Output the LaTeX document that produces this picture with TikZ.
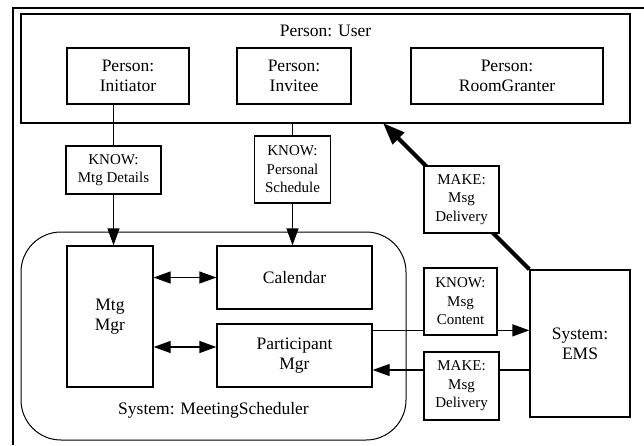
\documentclass[tikz,border=0pt]{standalone}
\usepackage{fontspec}
\setmainfont{Liberation Serif}
\usetikzlibrary{arrows.meta,backgrounds}
\newcommand{\bigfnt}{\fontsize{17.5}{20}\selectfont}
\newcommand{\smallfnt}{\fontsize{15}{18.5}\selectfont}
\begin{document}
\begin{tikzpicture}[x=1pt,y=-1pt,
  box/.style={draw, line width=1.3pt, inner sep=0pt, align=center, font=\bigfnt},
  tag/.style={draw, fill=white, line width=1.3pt, inner sep=0pt, align=center, font=\smallfnt},
  conn/.style={line width=1.3pt},
  >={Triangle[length=17pt,width=12pt]}]
\useasboundingbox (0,0) rectangle (644,445);

% Person: User container
\node[box, minimum width=609pt, minimum height=109pt] (user) at (325.5,68.5) {};
\node[font=\bigfnt] (userlbl) at (325.5,31) {Person: User};
\node[box, minimum width=122pt, minimum height=56pt] (init) at (128,76) {Person:\\Initiator};
\node[box, minimum width=114pt, minimum height=56pt] (inv) at (294,76) {Person:\\Invitee};
\node[box, minimum width=192pt, minimum height=56pt] (room) at (507,76) {Person:\\RoomGranter};

% KNOW labels on the left
\node[tag, minimum width=95pt, minimum height=48pt] (kmd) at (113.5,170) {KNOW:\\Mtg Details};
\node[tag, minimum width=76pt, minimum height=67pt] (kps) at (292.5,169.5) {KNOW:\\Personal\\Schedule};

% System: MeetingScheduler
\node[draw, line width=1pt, rounded corners=40pt, inner sep=0pt,
      minimum width=385pt, minimum height=208pt] (ms) at (213.5,336) {};
\node[font=\bigfnt] (mslbl) at (213.5,410) {System: MeetingScheduler};
\node[box, minimum width=86pt, minimum height=141pt] (mtg) at (110,316.5) {Mtg\\Mgr};
\node[box, minimum width=155pt, minimum height=63pt] (cal) at (294.5,277.5) {Calendar};
\node[box, minimum width=155pt, minimum height=63pt] (part) at (294.5,355.5) {Participant\\Mgr};

% right-hand side
\node[tag, minimum width=75pt, minimum height=67pt] (mk1) at (461.5,199.5) {MAKE:\\Msg\\Delivery};
\node[tag, minimum width=73pt, minimum height=67pt] (kmc) at (460.5,301.5) {KNOW:\\Msg\\Content};
\node[tag, minimum width=75pt, minimum height=68pt] (mk2) at (461.5,386) {MAKE:\\Msg\\Delivery};
\node[box, minimum width=100pt, minimum height=147pt] (ems) at (580,343.5) {System:\\EMS};

\coordinate (ut) at (383,123);

\begin{pgfonlayer}{background}
  \draw[line width=1.5pt] (644,8) -- (13,8) -- (13,445);
  \draw[conn] (kmd.north |- init.south) -- (kmd.north);
  \draw[conn,->] (kmd.south) -- (kmd.south |- mtg.north);
  \draw[conn] (kps.north |- user.south) -- (kps.north);
  \draw[conn,->] (kps.south) -- (kps.south |- cal.north);
  \draw[line width=4pt, -{Triangle[length=22pt,width=16pt]}] (ems.north west) -- (ut);
  \draw[conn,<->] (mtg.east |- cal.west) -- (cal.west);
  \draw[conn,<->] ([yshift=8.5pt]part.west -| mtg.east) -- ([yshift=8.5pt]part.west);
  \draw[conn,->] ([yshift=-7pt]part.north east) -- ([yshift=-7pt]part.north east -| ems.west);
  \draw[conn,->] ([yshift=-26.5pt]ems.west) -- ([yshift=-26.5pt]ems.west -| part.east);
\end{pgfonlayer}
\end{tikzpicture}
\end{document}
